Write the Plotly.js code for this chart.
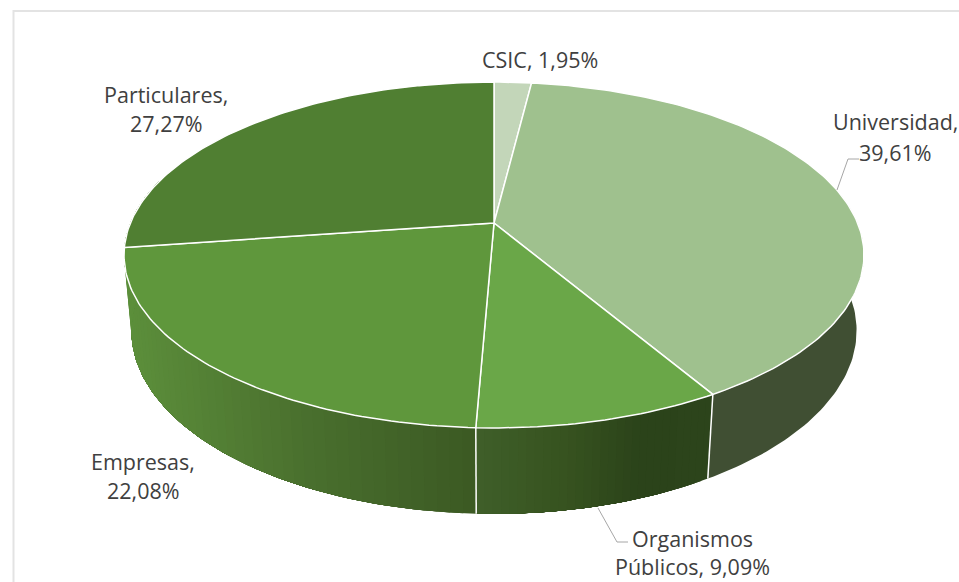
<!DOCTYPE html>
<html>
<head>
<meta charset="utf-8">
<script src="https://cdn.plot.ly/plotly-3.0.1.min.js"></script>
<style>html,body{margin:0;padding:0;background:#fff;overflow:hidden}#chart{width:959px;height:582px}</style>
</head>
<body>
<div id="chart"></div>
<script>
// ---- data ----
var categories = ["CSIC", "Universidad", "Organismos Públicos", "Empresas", "Particulares"];
var shares = [1.95, 39.61, 9.09, 22.08, 27.27];
var labelLines = [
  ["CSIC, 1,95%"],
  ["Universidad,", "39,61%"],
  ["Organismos", "Públicos, 9,09%"],
  ["Empresas,", "22,08%"],
  ["Particulares,", "27,27%"]
];

// ---- styling ----
var topColors = ["#c3d6b9", "#9fc18e", "#6aa748", "#5f973c", "#507f32"];
var labelX = [540, 895, 692, 143, 166];
var labelY = [[59], [121, 152], [538, 566], [461, 490], [94, 123]];
var labelFont = {family: "Open Sans, Noto Sans, sans-serif", size: 21.5, color: "#404040"};
var leaderColor = "#a6a6a6";
var frameColor = "#e3e3e3";

// ---- perspective of the tilted disc, in axis units (axes run as page pixels) ----
var cx = 494, cy = 223, A = 363.6, B = 167, K = 0.185;
var vanishY = 4070, depth = 0.0197;

function topPoint(deg) {
  var t = deg * Math.PI / 180, u = Math.sin(t), v = -Math.cos(t), w = 1 - K * v;
  return {x: cx + A * u / w, y: cy + B * v / w, w: w};
}
function bottomPoint(deg) {
  var p = topPoint(deg), s = p.w + depth;
  return {x: (p.w * p.x + depth * cx) / s, y: (p.w * p.y + depth * vanishY) / s};
}
function hex(c) { return [1, 3, 5].map(function (i) { return parseInt(c.substr(i, 2), 16); }); }
function ramp(stops, x) {
  var i = 0;
  while (i < stops.length - 2 && x > stops[i + 1][0]) i++;
  var a = stops[i], b = stops[i + 1];
  var f = Math.max(0, Math.min(1, (x - a[0]) / (b[0] - a[0])));
  var ca = hex(a[1]), cb = hex(b[1]);
  return "rgb(" + ca.map(function (v, k) { return Math.round(v + (cb[k] - v) * f); }).join(",") + ")";
}

// cumulative slice angles, clockwise from the top
var edges = [0];
var total = shares.reduce(function (a, b) { return a + b; }, 0);
shares.forEach(function (s, i) { edges.push(edges[i] + s / total * 360); });

var traces = [];
// each band spans from its start to the end of the wall and is painted over by the next,
// so that no seams show between bands
function wall(from, to, count, stops) {
  for (var i = 0; i < count; i++) {
    var a = from + (to - from) * i / count, n = Math.max(2, Math.ceil(to - a));
    var xs = [], ys = [], j, p;
    for (j = 0; j <= n; j++) { p = topPoint(a + (to - a) * j / n); xs.push(p.x); ys.push(p.y); }
    for (j = n; j >= 0; j--) { p = bottomPoint(a + (to - a) * j / n); xs.push(p.x); ys.push(p.y); }
    xs.push(xs[0]); ys.push(ys[0]);
    var col = ramp(stops, topPoint(a + (to - from) / count / 2).x);
    traces.push({type: "scatter", mode: "lines", x: xs, y: ys, fill: "toself", fillcolor: col,
      line: {color: col, width: 0}, hoverinfo: "skip", showlegend: false});
  }
}
// visible walls (the part behind is covered by the top faces)
wall(80, edges[2], 1, [[0, "#404f33"], [959, "#404f33"]]);
wall(edges[2], edges[3], 30, [[476, "#3f5f29"], [570, "#36521f"], [640, "#2b431a"], [710, "#2c441b"]]);
wall(edges[3], 285, 60, [[124, "#5c8f3b"], [300, "#4a702e"], [476, "#3b5923"]]);

// white seams between walls
[edges[2], edges[3]].forEach(function (d) {
  var p = topPoint(d), q = bottomPoint(d);
  traces.push({type: "scatter", mode: "lines", x: [p.x, q.x], y: [p.y, q.y],
    line: {color: "#ffffff", width: 1.5}, hoverinfo: "skip", showlegend: false});
});

// top faces
categories.forEach(function (name, i) {
  var xs = [cx], ys = [cy], steps = Math.max(6, Math.round(edges[i + 1] - edges[i]));
  for (var j = 0; j <= steps; j++) {
    var p = topPoint(edges[i] + (edges[i + 1] - edges[i]) * j / steps);
    xs.push(p.x); ys.push(p.y);
  }
  xs.push(cx); ys.push(cy);
  traces.push({type: "scatter", mode: "lines", name: name, x: xs, y: ys, fill: "toself",
    fillcolor: topColors[i], line: {color: "#ffffff", width: 1.5},
    text: name + ", " + shares[i].toFixed(2).replace(".", ",") + "%", hoverinfo: "text", showlegend: false});
});

var annotations = [];
labelLines.forEach(function (lines, i) {
  lines.forEach(function (t, j) {
    annotations.push({xref: "x", yref: "y", x: labelX[i], y: labelY[i][j], text: t, showarrow: false,
      xanchor: "center", yanchor: "middle", font: labelFont});
  });
});

var shapes = [
  {type: "path", xref: "x", yref: "y", path: "M837,190 L848,159 L859,159", line: {color: leaderColor, width: 1}},
  {type: "path", xref: "x", yref: "y", path: "M598,508 L617,542 L628,542", line: {color: leaderColor, width: 1}},
  {type: "path", xref: "x", yref: "y", path: "M13.5,582 L13.5,11 L959,11", line: {color: frameColor, width: 2}}
];

Plotly.newPlot("chart", traces, {
  width: 959, height: 582, margin: {l: 0, r: 0, t: 0, b: 0},
  paper_bgcolor: "#ffffff", plot_bgcolor: "#ffffff", showlegend: false,
  xaxis: {range: [0, 959], visible: false, fixedrange: true},
  yaxis: {range: [582, 0], visible: false, fixedrange: true},
  annotations: annotations, shapes: shapes
}, {displayModeBar: false, staticPlot: true});
</script>
</body>
</html>
